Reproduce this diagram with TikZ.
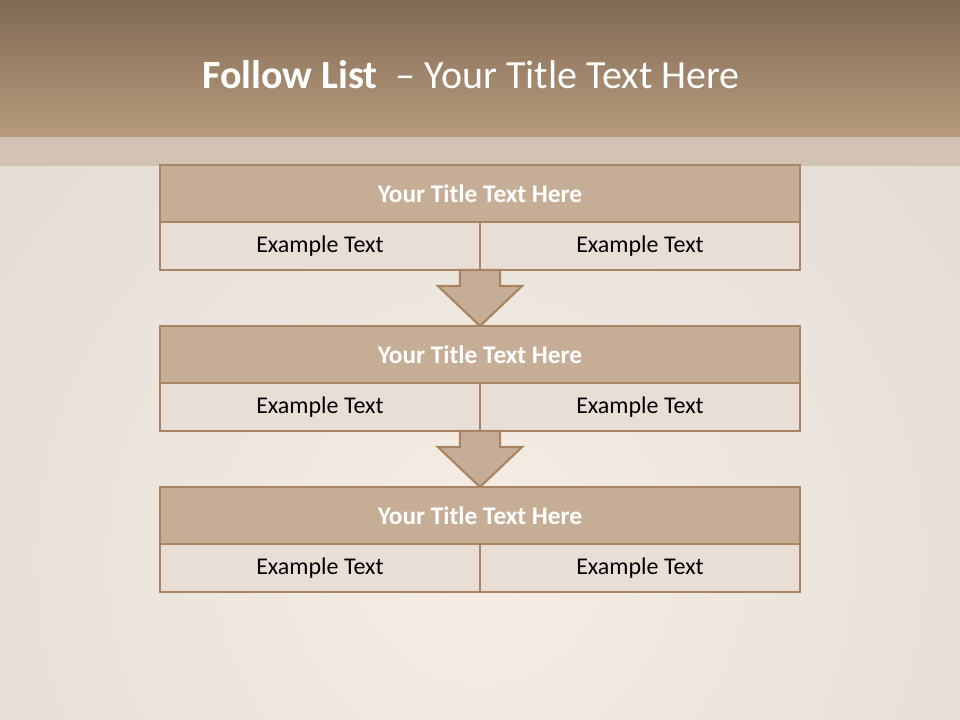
\documentclass[tikz,border=0pt]{standalone}
\usepackage{fontspec}
\setmainfont{Carlito}
\usetikzlibrary{positioning,calc}
\definecolor{bandtop}{HTML}{806A54}
\definecolor{bandbot}{HTML}{B89B7D}
\definecolor{strip}{HTML}{D2C3B4}
\definecolor{bgin}{HTML}{F6EEE4}
\definecolor{bgout}{HTML}{E2DCD5}
\definecolor{edge}{HTML}{A98462}
\definecolor{headfill}{HTML}{C6AE96}
\definecolor{cellfill}{HTML}{E8DED6}

\begin{document}
\begin{tikzpicture}[x=0.75pt,y=-0.75pt,
  headrow/.style={draw=edge,line width=2pt,fill=headfill,minimum width=480pt,
                  minimum height=42.75pt,inner sep=0pt,outer sep=0pt,text=white,
                  font=\fontsize{19}{23}\selectfont\bfseries},
  cellrow/.style={draw=edge,line width=2pt,fill=cellfill,minimum width=240pt,
                  minimum height=36pt,inner sep=0pt,outer sep=0pt,
                  font=\fontsize{18}{22}\selectfont},
  blockarrow/.style={draw=edge,line width=1.6pt,fill=headfill,line join=miter}]
  \useasboundingbox (0,0) rectangle (960,720);
  \begin{scope}
    \clip (0,0) rectangle (960,720);
    \fill[bgout] (0,0) rectangle (960,720);
    \shade[inner color=bgin,outer color=bgout] (480,560) circle (640);
  \end{scope}
  \shade[top color=bandtop,bottom color=bandbot] (0,0) rectangle (960,137);
  \fill[strip] (0,137) rectangle (960,166);
  \node[text=white,font=\fontsize{30}{36}\selectfont] (title) at (471,75)
    {\textbf{Follow List}\ \ – Your Title Text Here};
  \foreach \i/\y in {1/165,2/326,3/487}{
    \node[headrow,anchor=north] (h\i) at (480,\y) {Your Title Text Here};
    \node[cellrow,anchor=north east] (l\i) at (h\i.south) {Example Text};
    \node[cellrow,anchor=north west] (r\i) at (h\i.south) {Example Text};
  }
  \foreach \i/\j in {1/2,2/3}{
    \draw[blockarrow] ($(l\i.south east)+(-20,0)$) -- ++(0,16) -- ++(-22,0)
      -- (h\j.north) -- ($(l\i.south east)+(42,16)$) -- ++(-22,0) -- ++(0,-16) -- cycle;
  }
\end{tikzpicture}
\end{document}
